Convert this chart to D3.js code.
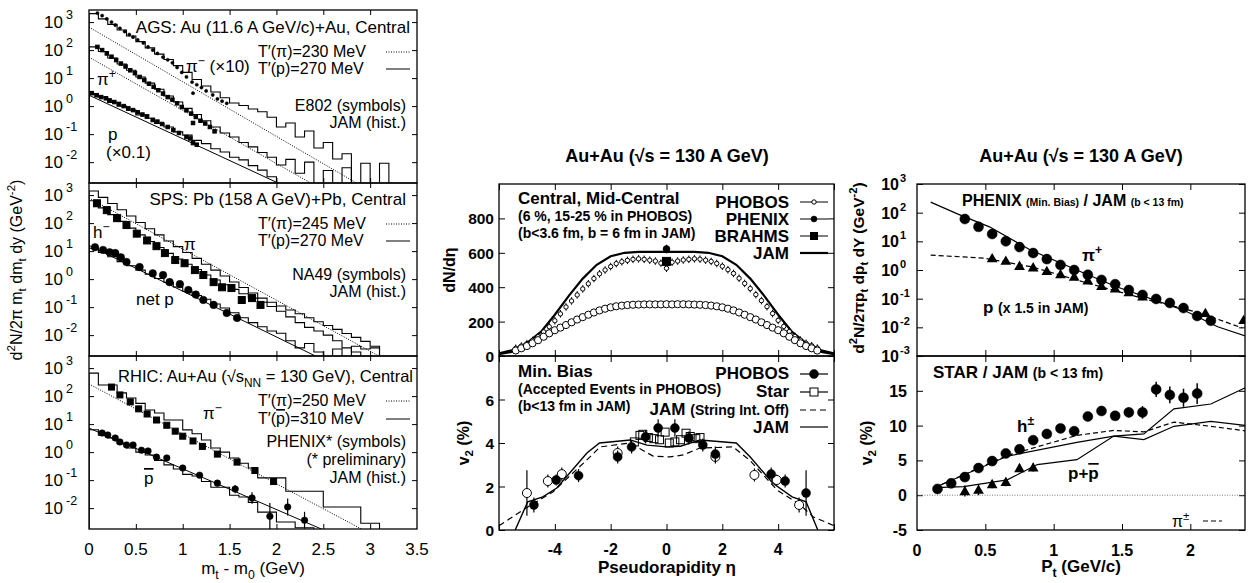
<!DOCTYPE html>
<html>
<head>
<meta charset="utf-8">
<script src="https://cdn.jsdelivr.net/npm/d3@7"></script>
<style>
  body { margin: 0; background: #fff; }
  svg { display: block; }
  text { font-family: "Liberation Sans", Arial, Helvetica, sans-serif; fill: #000; }
  .ax path.domain { display: none; }
  .ax line { stroke: #000; }
</style>
</head>
<body>
<svg id="chart" width="1250" height="583"></svg>
<script>
// ================= data =================
// left column: m_t - m_0 spectra, data pairs [mt-m0 (GeV), value]
const mtTicks = [0, 0.5, 1, 1.5, 2, 2.5, 3, 3.5];
const mtDecades = [1e-2, 1e-1, 1, 1e1, 1e2, 1e3];
const histBin = 0.1;

// AGS (E802 symbols, JAM histograms)
const agsPiMinus = [[0.09,2100],[0.14,1700],[0.19,1300],[0.24,1000],[0.28,780],[0.33,600],[0.38,460],[0.43,360],[0.47,290],[0.52,230],[0.58,180],[0.63,130],[0.68,100],[0.73,76],[0.79,56],[0.84,45],[0.89,35],[0.94,24],[0.99,16],[1.04,11],[1.10,7.2],[1.11,2.9],[1.15,5.8],[1.20,4.6],[1.25,3.5],[1.32,2.5],[1.37,1.8],[1.42,1.5],[1.47,1.26]];
const agsPiMinusHist = [2000,1300,830,520,320,200,120,72,46,28,16,8.9,5.2,3.2,2.0,1.3,1.05,0.79,0.63,0.4,0.18,0.25,0.079,0.13,0.032,0.05,0.013,0.02,null,0.0091,null,0.0091];
const agsPiPlus = [[0.09,130],[0.14,100],[0.19,76],[0.24,58],[0.29,44],[0.34,33],[0.39,26],[0.44,19],[0.49,15],[0.54,11],[0.59,8.5],[0.64,6.3],[0.69,4.9],[0.74,3.7],[0.79,2.8],[0.84,2.1],[0.89,1.7],[0.94,1.26],[0.99,0.93],[1.04,0.71],[1.09,0.54],[1.11,0.25],[1.14,0.41],[1.19,0.30],[1.24,0.24],[1.29,0.18],[1.34,0.126]];
const agsPiPlusHist = [130,89,52,32,19,11,6.6,4.0,2.3,1.4,0.83,0.5,0.3,0.18,0.11,0.079,0.05,0.035,0.022,0.015,0.0079,0.0126,0.004,0.01,null,0.005,null,0.0063];
const agsProton = [[0.03,2.9],[0.08,2.45],[0.13,2.1],[0.18,1.9],[0.22,1.6],[0.27,1.4],[0.32,1.2],[0.37,1.0],[0.42,0.83],[0.47,0.72],[0.52,0.6],[0.57,0.5],[0.62,0.43],[0.68,0.32],[0.73,0.28],[0.78,0.23],[0.84,0.18],[0.9,0.14],[0.96,0.11],[1.04,0.079],[1.08,0.07],[1.11,0.048],[1.15,0.042]];
const agsProtonHist = [2.8,2.1,1.35,1.0,0.72,0.48,0.37,0.24,0.18,0.12,0.092,0.06,0.046,0.03,0.023,0.015,0.012,0.0075,0.0052,0.003];
const agsFitPiMinus = [[0,660],[3.0,9.3e-4]];
const agsFitPiPlus = [[0,56],[2.5,1e-3]];
const agsFitProton = [[0,2.45],[2.5,3.2e-4]];

// SPS (NA49 symbols, JAM histograms)
const spsPiHist = [1400,830,500,300,180,105,63,38,23,14.5,8.9,5.5,3.4,2.1,1.29,0.79,0.5,0.32,0.21,0.15,0.11,0.079,0.058,0.042,0.030,0.022,0.016,0.0115,0.0083,0.006,0.004];
const spsHMinus = [[0.085,510],[0.19,290],[0.30,150],[0.40,85],[0.51,42],[0.62,24],[0.72,15],[0.81,8.5],[0.92,4.8],[1.02,3.7],[1.13,2.1],[1.22,1.4],[1.33,0.78],[1.42,0.51],[1.52,0.48],[1.63,0.18],[1.74,0.21],[1.83,0.12]];
const spsHMinusHist = [630,350,200,115,66,38,22,13.5,8.3,5.2,3.4,2.2,1.41,0.93,0.63,0.43,0.3,0.21,0.15,0.105,0.071,0.045,0.028,0.019,0.014,0.01,0.0063,0.0035,0.0025];
const spsNetP = [[0.064,13.8],[0.15,11],[0.22,9.1],[0.28,8.5],[0.34,6.0],[0.40,4.1],[0.54,2.7],[0.68,1.6],[0.79,1.4],[0.86,0.78],[0.97,0.66],[1.06,0.41],[1.14,0.28],[1.22,0.18],[1.33,0.12],[1.47,0.062],[1.58,0.041]];
const spsNetPHist = [12.6,8.9,6.3,4.2,3.0,2.1,1.5,1.05,0.76,0.52,0.37,0.26,0.19,0.13,0.093,0.063,0.042,0.028,0.02,0.014,0.0117,0.0063,0.0035,0.005,0.0025,null,0.0032,null,0.004,0.0032,0.0035];
const spsFitPi = [[0,780],[3.3,7.6e-4]];
const spsFitP = [[0,16],[2.6,9e-4]];

// RHIC (PHENIX preliminary symbols, JAM histograms)
const rhicPiMinus = [[0.24,210],[0.33,110],[0.44,62],[0.53,35],[0.62,23],[0.72,14],[0.83,9.1],[0.92,5.6],[1.0,3.7],[1.11,2.5],[1.21,1.6],[1.37,0.85],[1.58,0.44],[1.77,0.22],[1.97,0.089]];
const rhicPiMinusHist = [660,250,250,130,85,55,32,25,14,14,6.2,4.5,2.7,1.4,1.0,0.62,0.4,0.27,0.12,0.12,0.12,0.04,0.04,0.04,0.04,0.011,0.011,0.011,0.011,0.0029,0.0029];
const rhicPbar = [[0.14,4.8],[0.20,4.1],[0.28,3.2],[0.33,2.3],[0.40,1.8],[0.47,1.8],[0.56,1.17],[0.63,1.1],[0.72,0.66],[0.83,0.62],[1.0,0.27],[1.18,0.15],[1.37,0.078],[1.56,0.048],[1.74,0.023],[1.93,0.0051],[2.12,0.011],[2.3,0.0037]];
const rhicPbarErrFactor = [1.1,1.1,1.1,1.1,1.1,1.1,1.1,1.1,1.1,1.15,1.2,1.25,1.3,1.4,1.6,3,2,2];
const rhicPbarHist = [6.3,4.0,3.2,2.0,1.4,1.0,0.79,0.5,0.35,0.25,0.16,0.14,0.089,0.056,0.056,0.029,0.025,0.016,0.0072,0.0072,0.0032,0.0032,0.002,0.002];
const rhicFitPi = [[0,270],[3.2,5.4e-4]];
const rhicFitPbar = [[0,7.2],[2.6,1.2e-3]];

// middle column: pseudorapidity
const etaTicks = [-6, -4, -2, 0, 2, 4, 6];
const phobosEta = [-5.4,-5.2,-5.0,-4.8,-4.6,-4.4,-4.2,-4.0,-3.8,-3.6,-3.4,-3.2,-3.0,-2.8,-2.6,-2.4,-2.2,-2.0,-1.8,-1.6,-1.4,-1.2,-1.0,-0.8,-0.6,-0.4,-0.2,0,0.2,0.4,0.6,0.8,1.0,1.2,1.4,1.6,1.8,2.0,2.2,2.4,2.6,2.8,3.0,3.2,3.4,3.6,3.8,4.0,4.2,4.4,4.6,4.8,5.0,5.2,5.4];
const phobosCentral = [45,58,72,90,112,140,170,205,245,285,320,355,390,420,450,478,500,520,537,548,556,562,565,562,557,552,540,510,545,552,558,562,565,563,557,550,538,522,502,480,452,422,392,357,322,287,247,207,172,142,114,92,74,60,46];
const phobosCentralErr = 22;
const phobosMidCentral = [32,45,58,74,92,112,132,150,165,180,196,212,226,240,253,265,275,283,289,293,296,298,299,300,300,300,300,301,300,301,301,300,299,298,296,293,289,283,275,265,253,240,226,212,196,180,165,150,132,112,92,74,58,45,32];
const phenixDndeta = [[0, 622, 25]];
const brahmsDndeta = [[0, 550]];
const jamEta = [-6,-5.5,-5,-4.5,-4,-3.5,-3,-2.5,-2,-1.5,-1,0,1,1.5,2,2.5,3,3.5,4,4.5,5,5.5,6];
const jamCentral = [15,35,75,140,240,350,450,530,580,600,605,605,605,600,580,530,450,350,240,140,75,35,15];
const jamMidCentral = [10,25,50,95,140,185,225,260,285,297,300,300,300,297,285,260,225,185,140,95,50,25,10];

const phobosV2Eta = [-4.75,-3.95,-3.15,-1.75,-1.25,-0.75,-0.3,0.3,0.8,1.3,1.75,3.75,4.25,5.0];
const phobosV2 = [1.15,2.3,2.5,3.36,3.82,4.28,4.69,4.69,4.23,3.91,3.49,2.57,2.25,1.7];
const phobosV2Err = [0.35,0.25,0.3,0.3,0.3,0.3,0.4,0.4,0.3,0.3,0.35,0.3,0.3,1.05];
const phobosV2MirEta = [-5.0,-4.25,-3.75,-1.75,1.75,3.15,3.95,4.75];
const phobosV2Mir = [1.7,2.25,2.57,3.54,3.36,2.53,2.3,1.15];
const phobosV2MirErr = [1.05,0.3,0.3,0.3,0.3,0.3,0.25,0.35];
const starV2Eta = [-1.15,-0.95,-0.85,-0.65,-0.45,-0.25,-0.05,0.1,0.3,0.5,0.7,0.85,1.05,1.2];
const starV2 = [4.05,4.35,4.4,4.25,4.2,4.15,4.5,4.0,4.05,4.15,4.45,4.3,4.2,4.25];
const jamV2Eta = [-5.42,-4.97,-4.43,-3.93,-2.85,-2.4,-1.3,-0.7,0,0.5,1.2,2.5,3.0,3.8,4.5,5.0,5.42];
const jamV2 = [0,1.3,1.52,1.93,3.54,4.0,4.14,3.9,3.82,3.85,4.14,4.0,3.36,2.16,1.52,1.3,0];
const jamV2OffEta = [-6,-4.97,-4.07,-2.74,-2.38,-1.3,-0.9,-0.48,0.12,0.6,1.2,2.38,2.99,3.96,4.79,5.26,6];
const jamV2Off = [0.2,1.06,1.75,3.36,3.82,4.0,3.7,3.4,3.36,3.45,3.77,3.82,3.2,1.84,1.15,0.6,0.2];

// right column: transverse momentum
const ptTicks = [0, 0.5, 1, 1.5, 2];
const ptDecades = [1e-3, 1e-2, 1e-1, 1, 1e1, 1e2, 1e3];
const phenixPiPt = [0.35,0.45,0.55,0.65,0.75,0.85,0.95,1.05,1.15,1.25,1.35,1.45,1.55,1.65,1.75,1.85,1.95,2.05,2.15];
const phenixPi = [60,32,18,10,6.3,3.9,2.4,1.5,1.0,0.68,0.45,0.32,0.2,0.135,0.098,0.071,0.047,0.025,0.017];
const phenixPPt = [0.55,0.65,0.75,0.85,0.95,1.05,1.15,1.25,1.35,1.45,1.55,1.65,2.11,2.39];
const phenixP = [2.6,2.1,1.4,1.24,0.93,0.71,0.59,0.43,0.28,0.23,0.17,0.12,0.032,0.018];
const jamPiPt = [0.1,0.3,0.53,0.83,1.22,1.46,1.95,2.2,2.42];
const jamPi = [234,89,32,5.0,0.79,0.26,0.04,0.0105,0.0047];
const jamPPt = [0.1,0.49,0.85,1.22,1.7,2.07,2.38];
const jamP = [3.3,2.6,1.26,0.38,0.089,0.032,0.0095];

const starHPt = [0.15,0.25,0.35,0.45,0.55,0.65,0.75,0.85,0.95,1.05,1.15,1.25,1.35,1.45,1.55,1.65,1.75,1.85,1.95,2.05];
const starH = [0.9,1.7,2.6,3.9,4.9,6.0,6.6,7.9,8.8,9.6,9.2,11.3,12.1,11.4,11.9,11.9,15.2,14.4,14.0,14.6];
const starHErr = [0.2,0.2,0.3,0.3,0.3,0.3,0.3,0.3,0.3,0.3,0.3,0.4,0.4,0.6,0.7,0.9,1.1,1.2,1.3,1.5];
const starPPt = [0.35,0.45,0.55,0.65,0.75,0.85];
const starP = [0.6,0.8,1.6,1.9,3.9,4.0];
const starPErr = [0.8,0.8,0.6,0.6,0.6,0.6];
const jamV2HPt = [0.13,0.66,1.17,1.44,1.66,1.88,2.15,2.42];
const jamV2H = [1.1,5.6,7.6,8.5,8.0,9.9,10.6,10.0];
const jamV2PPt = [0.13,0.34,0.66,0.88,1.17,1.44,1.66,1.88,2.15,2.42];
const jamV2P = [1.1,1.24,2.2,4.4,5.1,8.5,8.8,12.4,13.1,15.6];
const jamV2PiPt = [0.13,0.66,1.17,1.44,1.66,1.88,2.15,2.42];
const jamV2Pi = [1.1,5.7,8.6,9.3,9.1,10.5,9.9,9.2];

// ================= drawing =================
const svg = d3.select("#chart");
const FLOOR = 1e-5;
let clipN = 0;

function rich(g, x, y, segs, o = {}) {
  const size = o.size || 16;
  const t = g.append("text").attr("x", x).attr("y", y)
    .attr("font-size", size)
    .attr("font-weight", o.bold ? "bold" : null)
    .attr("text-anchor", o.anchor || "start");
  if (o.rotate) t.attr("transform", `rotate(-90,${x},${y})`);
  let shift = 0;
  segs.forEach(s => {
    if (typeof s === "string") s = { t: s };
    const target = s.sup ? -0.42 * size : s.sub ? 0.28 * size : 0;
    const ts = t.append("tspan").text(s.t).attr("dy", target - shift);
    shift = target;
    if (s.sup || s.sub) ts.attr("font-size", s.size || size * 0.72);
    else if (s.size) ts.attr("font-size", s.size);
    if (s.over) ts.style("text-decoration", "overline");
  });
  return t;
}

function clipped(x0, y0, x1, y1) {
  const id = "clip" + (clipN++);
  svg.append("clipPath").attr("id", id).append("rect")
    .attr("x", x0).attr("y", y0).attr("width", x1 - x0).attr("height", y1 - y0);
  return svg.append("g").attr("clip-path", `url(#${id})`);
}

function line(g, pts, x, y, dash, w) {
  return g.append("path").datum(pts)
    .attr("fill", "none").attr("stroke", "#000")
    .attr("stroke-width", w || 1)
    .attr("stroke-dasharray", dash || null)
    .attr("d", d3.line().x(d => x(d[0])).y(d => y(d[1])));
}

function histPts(vals, w) {
  const pts = [[0, FLOOR]];
  vals.forEach((v, i) => {
    const h = v == null ? FLOOR : v;
    pts.push([i * w, h], [(i + 1) * w, h]);
  });
  pts.push([vals.length * w, FLOOR]);
  return pts;
}

function marks(g, data, x, y, kind, s) {
  const tag = kind === "sq" || kind === "box" ? "rect" : kind === "tri" ? "path" : "circle";
  const sel = g.selectAll(null).data(data).join(tag);
  if (tag === "circle") {
    sel.attr("cx", d => x(d[0])).attr("cy", d => y(d[1])).attr("r", s)
      .attr("fill", kind === "dot" ? "#000" : "#fff")
      .attr("stroke", "#000").attr("stroke-width", kind === "ring" ? 1 : 0.5);
  } else if (tag === "rect") {
    sel.attr("x", d => x(d[0]) - s / 2).attr("y", d => y(d[1]) - s / 2)
      .attr("width", s).attr("height", s)
      .attr("fill", kind === "sq" ? "#000" : "none")
      .attr("stroke", "#000").attr("stroke-width", 1);
  } else {
    sel.attr("d", d3.symbol(d3.symbolTriangle, s))
      .attr("transform", d => `translate(${x(d[0])},${y(d[1]) + 1})`)
      .attr("fill", "#000");
  }
}

// error bars: data [x, lo, hi]
function errs(g, data, x, y, w) {
  g.selectAll(null).data(data).join("line")
    .attr("x1", d => x(d[0])).attr("x2", d => x(d[0]))
    .attr("y1", d => y(d[1])).attr("y2", d => y(d[2]))
    .attr("stroke", "#000").attr("stroke-width", w || 1.2);
}

function frame(x0, y0, x1, y1) {
  svg.append("rect").attr("x", x0).attr("y", y0).attr("width", x1 - x0).attr("height", y1 - y0)
    .attr("fill", "none").attr("stroke", "#000").attr("stroke-width", 1.3);
}

function axes(x, y, xt, yt, x0, x1, y0, y1, len) {
  const k = len || 5;
  svg.append("g").attr("class", "ax").attr("transform", `translate(${x0},0)`)
    .call(d3.axisLeft(y).tickValues(yt).tickSizeInner(-k).tickSizeOuter(0).tickFormat(""));
  svg.append("g").attr("class", "ax").attr("transform", `translate(${x1},0)`)
    .call(d3.axisRight(y).tickValues(yt).tickSizeInner(-k).tickSizeOuter(0).tickFormat(""));
  svg.append("g").attr("class", "ax").attr("transform", `translate(0,${y1})`)
    .call(d3.axisBottom(x).tickValues(xt).tickSizeInner(-k).tickSizeOuter(0).tickFormat(""));
  svg.append("g").attr("class", "ax").attr("transform", `translate(0,${y0})`)
    .call(d3.axisTop(x).tickValues(xt).tickSizeInner(-k).tickSizeOuter(0).tickFormat(""));
}

// ---------- left column ----------
const xMt = d3.scaleLinear([0, 3.5], [89, 417]);
const leftTops = [10, 183, 356];
const leftH = 173;
const yMt = leftTops.map(t => d3.scaleLog([1.8e-3, 2.7e3], [t + leftH, t]));
const LF = 17;   // single labels
const SF = 16;   // stacked labels

leftTops.forEach((t, i) => {
  const y = yMt[i];
  axes(xMt, y, mtTicks.slice(1, -1), mtDecades, 89, 417, t, t + leftH);
  mtDecades.forEach(v => {
    svg.append("text").attr("x", 63).attr("y", y(v) + 6).attr("text-anchor", "end")
      .attr("font-size", 17).text("10");
    svg.append("text").attr("x", 66).attr("y", y(v) - 3).attr("font-size", 12.5)
      .text(Math.round(Math.log10(v)));
  });
});

// legend sample lines for the fit temperatures
function tLegend(y1, y2, piTxt, pTxt, pbar) {
  rich(svg, 258, y1, ["T′(π)=" + piTxt + " MeV"], { size: SF });
  rich(svg, 258, y2, ["T′(", { t: "p", over: !!pbar }, ")=" + pTxt + " MeV"], { size: SF });
  svg.append("line").attr("x1", 386).attr("x2", 410).attr("y1", y1 - 5).attr("y2", y1 - 5)
    .attr("stroke", "#000").attr("stroke-dasharray", "1,1.5");
  svg.append("line").attr("x1", 386).attr("x2", 410).attr("y1", y2 - 5).attr("y2", y2 - 5)
    .attr("stroke", "#000");
}

// AGS panel
{
  const y = yMt[0];
  const g = clipped(89, 10, 417, 183);
  line(g, agsFitPiMinus, xMt, y, "1,1.5");
  line(g, agsFitPiPlus, xMt, y, "1,1.5");
  line(g, agsFitProton, xMt, y);
  line(g, histPts(agsPiMinusHist, histBin), xMt, y, null, 1.1);
  line(g, histPts(agsPiPlusHist, histBin), xMt, y, null, 1.1);
  line(g, histPts(agsProtonHist, histBin), xMt, y, null, 1.1);
  marks(g, agsPiMinus, xMt, y, "dot", 1.6);
  marks(g, agsPiPlus, xMt, y, "sq", 3.5);
  marks(g, agsProton, xMt, y, "sq", 3.5);
  rich(svg, 410, 33, ["AGS: Au (11.6 A GeV/c)+Au, Central"], { anchor: "end", size: LF });
  rich(svg, 186, 72, ["π", { t: "−", sup: true }, " (×10)"], { size: LF });
  tLegend(57, 74, "230", "270");
  rich(svg, 97, 85, ["π", { t: "+", sup: true }], { size: LF });
  rich(svg, 406, 111, ["E802 (symbols)"], { anchor: "end", size: SF });
  rich(svg, 406, 128, ["JAM (hist.)"], { anchor: "end", size: SF });
  rich(svg, 108, 140, ["p"], { size: LF });
  rich(svg, 106, 158, ["(×0.1)"], { size: LF });
}

// SPS panel
{
  const y = yMt[1];
  const g = clipped(89, 183, 417, 356);
  line(g, spsFitPi, xMt, y, "1,1.5");
  line(g, spsFitP, xMt, y);
  line(g, histPts(spsPiHist, histBin), xMt, y, null, 1.1);
  line(g, histPts(spsHMinusHist, histBin), xMt, y, null, 1.1);
  line(g, histPts(spsNetPHist, histBin), xMt, y, null, 1.1);
  marks(g, spsHMinus, xMt, y, "sq", 7);
  marks(g, spsNetP, xMt, y, "dot", 3.8);
  rich(svg, 406, 205, ["SPS: Pb (158 A GeV)+Pb, Central"], { anchor: "end", size: LF });
  tLegend(229, 246, "245", "270");
  rich(svg, 93, 238, ["h", { t: "−", sup: true }], { size: LF });
  rich(svg, 184, 250, ["π"], { size: LF });
  rich(svg, 406, 280, ["NA49 (symbols)"], { anchor: "end", size: SF });
  rich(svg, 406, 297, ["JAM (hist.)"], { anchor: "end", size: SF });
  rich(svg, 136, 305, ["net p"], { size: LF });
}

// RHIC panel
{
  const y = yMt[2];
  const g = clipped(89, 356, 417, 529);
  line(g, rhicFitPi, xMt, y, "1,1.5");
  line(g, rhicFitPbar, xMt, y);
  line(g, histPts(rhicPiMinusHist, histBin), xMt, y, null, 1.1);
  line(g, histPts(rhicPbarHist, histBin), xMt, y, null, 1.1);
  marks(g, rhicPiMinus, xMt, y, "sq", 6);
  errs(g, rhicPbar.map((d, i) => [d[0], d[1] / rhicPbarErrFactor[i], d[1] * rhicPbarErrFactor[i]]), xMt, y, 1.2);
  marks(g, rhicPbar, xMt, y, "dot", 3.3);
  rich(svg, 413, 382, ["RHIC: Au+Au (√s", { t: "NN", sub: true }, " = 130 GeV), Central"], { anchor: "end", size: 16.5 });
  tLegend(406, 424, "250", "310", true);
  rich(svg, 203, 419, ["π", { t: "−", sup: true }], { size: LF });
  rich(svg, 406, 447, ["PHENIX* (symbols)"], { anchor: "end", size: SF });
  rich(svg, 406, 465, ["(* preliminary)"], { anchor: "end", size: SF });
  rich(svg, 406, 483, ["JAM (hist.)"], { anchor: "end", size: SF });
  rich(svg, 144, 484, [{ t: "p", over: true }], { size: LF });
}

leftTops.forEach(t => frame(89, t, 417, t + leftH));
mtTicks.forEach(v => {
  svg.append("text").attr("x", xMt(v)).attr("y", 555).attr("text-anchor", "middle")
    .attr("font-size", 17).text(v);
});
rich(svg, 253, 574, ["m", { t: "t", sub: true }, " - m", { t: "0", sub: true }, " (GeV)"], { anchor: "middle", size: 17 });
rich(svg, 22, 270, ["d", { t: "2", sup: true }, "N/2π m", { t: "t", sub: true }, " dm", { t: "t", sub: true }, " dy (GeV", { t: "-2", sup: true }, ")"], { anchor: "middle", size: 16, rotate: true });

// ---------- middle column ----------
const xEta = d3.scaleLinear([-6, 6], [499, 834]);
const yDn = d3.scaleLinear([0, 1000], [356, 184]);
const yV2e = d3.scaleLinear([0, 8], [530, 356]);

axes(xEta, yDn, etaTicks, [0, 200, 400, 600, 800], 499, 834, 184, 356, 6);
axes(xEta, yV2e, etaTicks, [0, 2, 4, 6], 499, 834, 356, 530, 6);

{
  const g = clipped(499, 184, 834, 356);
  line(g, d3.zip(jamEta, jamCentral), xEta, yDn, null, 2.2);
  line(g, d3.zip(jamEta, jamMidCentral), xEta, yDn, null, 2.2);
  const cen = d3.zip(phobosEta, phobosCentral);
  errs(g, cen.map(d => [d[0], d[1] - phobosCentralErr, d[1] + phobosCentralErr]), xEta, yDn, 1);
  marks(g, cen, xEta, yDn, "ring", 2.2);
  marks(g, d3.zip(phobosEta, phobosMidCentral), xEta, yDn, "ring", 3.6);
  errs(g, phenixDndeta.map(d => [d[0], d[1] - d[2], d[1] + d[2]]), xEta, yDn, 1.3);
  marks(g, phenixDndeta, xEta, yDn, "dot", 3.5);
  marks(g, brahmsDndeta, xEta, yDn, "sq", 8);
}
{
  const g = clipped(499, 356, 834, 530);
  line(g, d3.zip(jamV2OffEta, jamV2Off), xEta, yV2e, "6,4", 1.2);
  line(g, d3.zip(jamV2Eta, jamV2), xEta, yV2e, null, 1.4);
  errs(g, phobosV2MirEta.map((e, i) => [e, phobosV2Mir[i] - phobosV2MirErr[i], phobosV2Mir[i] + phobosV2MirErr[i]]), xEta, yV2e, 1.2);
  marks(g, d3.zip(phobosV2MirEta, phobosV2Mir), xEta, yV2e, "ring", 4.5);
  marks(g, d3.zip(starV2Eta, starV2), xEta, yV2e, "box", 8);
  errs(g, phobosV2Eta.map((e, i) => [e, phobosV2[i] - phobosV2Err[i], phobosV2[i] + phobosV2Err[i]]), xEta, yV2e, 1.2);
  marks(g, d3.zip(phobosV2Eta, phobosV2), xEta, yV2e, "dot", 4.5);
}
frame(499, 184, 834, 356);
frame(499, 356, 834, 530);

rich(svg, 667, 162, ["Au+Au (√s = 130 A GeV)"], { anchor: "middle", size: 18, bold: true });
[0, 200, 400, 600, 800].forEach(v => rich(svg, 494, yDn(v) + 6, [String(v)], { anchor: "end", size: 15.5, bold: true }));
[0, 2, 4, 6].forEach(v => rich(svg, 494, yV2e(v) + 6, [String(v)], { anchor: "end", size: 15.5, bold: true }));
[-4, -2, 0, 2, 4].forEach(v => rich(svg, xEta(v), 555, [String(v)], { anchor: "middle", size: 16, bold: true }));
rich(svg, 667, 573, ["Pseudorapidity η"], { anchor: "middle", size: 17, bold: true });
rich(svg, 455, 270, ["dN/dη"], { anchor: "middle", size: 16, bold: true, rotate: true });
rich(svg, 469, 443, ["v", { t: "2", sub: true }, " (%)"], { anchor: "middle", size: 16, bold: true, rotate: true });

rich(svg, 518, 204, ["Central, Mid-Central"], { size: 17, bold: true });
rich(svg, 518, 221, ["(6 %, 15-25 % in PHOBOS)"], { size: 14, bold: true });
rich(svg, 518, 238, ["(b<3.6 fm, b = 6 fm in JAM)"], { size: 14, bold: true });
rich(svg, 518, 377, ["Min. Bias"], { size: 17, bold: true });
rich(svg, 518, 394, ["(Accepted Events in PHOBOS)"], { size: 14, bold: true });
rich(svg, 518, 411, ["(b<13 fm in JAM)"], { size: 14, bold: true });

// middle legends
{
  const lx = 789, s0 = 800, s1 = 828, sc = 814;
  const top = [["PHOBOS", 202], ["PHENIX", 219], ["BRAHMS", 236], ["JAM", 253]];
  top.forEach(([t, yy]) => rich(svg, lx, yy + 6, [t], { anchor: "end", size: 17, bold: true }));
  top.forEach(([t, yy], i) => svg.append("line").attr("x1", s0).attr("x2", s1).attr("y1", yy).attr("y2", yy)
    .attr("stroke", "#000").attr("stroke-width", i === 3 ? 2.2 : 1));
  const ident = d => d;
  marks(svg, [[sc, 202]], ident, ident, "ring", 2.2);
  marks(svg, [[sc, 219]], ident, ident, "dot", 3);
  marks(svg, [[sc, 236]], ident, ident, "sq", 7);

  rich(svg, lx, 379, ["PHOBOS"], { anchor: "end", size: 17, bold: true });
  rich(svg, lx, 397, ["Star"], { anchor: "end", size: 17, bold: true });
  rich(svg, lx, 415, ["JAM ", { t: "(String Int. Off)", size: 14 }], { anchor: "end", size: 17, bold: true });
  rich(svg, lx, 433, ["JAM"], { anchor: "end", size: 17, bold: true });
  [[374, null], [392, null], [410, "6,4"], [427, null]].forEach(([yy, dash]) =>
    svg.append("line").attr("x1", s0).attr("x2", s1).attr("y1", yy).attr("y2", yy)
      .attr("stroke", "#000").attr("stroke-width", 1.2).attr("stroke-dasharray", dash));
  marks(svg, [[sc, 374]], ident, ident, "dot", 4.5);
  svg.append("rect").attr("x", sc - 4).attr("y", 388).attr("width", 8).attr("height", 8)
    .attr("fill", "#fff").attr("stroke", "#000");
}

// ---------- right column ----------
const xPt = d3.scaleLinear([0, 2.4], [917, 1245]);
const ySp = d3.scaleLog([1e-3, 1e3], [356, 184]);
const yV2p = d3.scaleLinear([-5, 20], [530, 356]);

axes(xPt, ySp, ptTicks.slice(1), ptDecades, 917, 1245, 184, 356, 6);
axes(xPt, yV2p, ptTicks.slice(1), [-5, 0, 5, 10, 15], 917, 1245, 356, 530, 6);

{
  const g = clipped(917, 184, 1245, 356);
  line(g, d3.zip(jamPiPt, jamPi), xPt, ySp, null, 1.2);
  line(g, d3.zip(jamPPt, jamP), xPt, ySp, "5,3", 1.2);
  marks(g, d3.zip(phenixPPt, phenixP), xPt, ySp, "tri", 50);
  marks(g, d3.zip(phenixPiPt, phenixPi), xPt, ySp, "dot", 5);
}
{
  const g = clipped(917, 356, 1245, 530);
  g.append("line").attr("x1", 917).attr("x2", 1245).attr("y1", yV2p(0)).attr("y2", yV2p(0))
    .attr("stroke", "#777").attr("stroke-dasharray", "1,1.5");
  line(g, d3.zip(jamV2PiPt, jamV2Pi), xPt, yV2p, "5,3", 1.2);
  line(g, d3.zip(jamV2HPt, jamV2H), xPt, yV2p, null, 1.2);
  line(g, d3.zip(jamV2PPt, jamV2P), xPt, yV2p, null, 1.2);
  errs(g, starHPt.map((p, i) => [p, starH[i] - starHErr[i], starH[i] + starHErr[i]]), xPt, yV2p, 1.5);
  marks(g, d3.zip(starHPt, starH), xPt, yV2p, "dot", 5);
  errs(g, starPPt.map((p, i) => [p, starP[i] - starPErr[i], starP[i] + starPErr[i]]), xPt, yV2p, 1.3);
  marks(g, d3.zip(starPPt, starP), xPt, yV2p, "tri", 50);
}
frame(917, 184, 1245, 356);
frame(917, 356, 1245, 530);

rich(svg, 1081, 162, ["Au+Au (√s = 130 A GeV)"], { anchor: "middle", size: 18, bold: true });
ptDecades.forEach(v => {
  rich(svg, 899, ySp(v) + 6, ["10"], { anchor: "end", size: 16, bold: true });
  rich(svg, 900, ySp(v) - 2, [String(Math.round(Math.log10(v)))], { size: 11, bold: true });
});
[-5, 0, 5, 10, 15].forEach(v => rich(svg, 907, yV2p(v) + 6, [String(v)], { anchor: "end", size: 16, bold: true }));
ptTicks.forEach(v => rich(svg, xPt(v), 556, [String(v)], { anchor: "middle", size: 16, bold: true }));
rich(svg, 1081, 572, ["P", { t: "t", sub: true }, " (GeV/c)"], { anchor: "middle", size: 17, bold: true });
rich(svg, 864, 268, ["d", { t: "2", sup: true }, "N/2πp", { t: "t", sub: true }, " dp", { t: "t", sub: true }, " dY (GeV", { t: "-2", sup: true }, ")"], { anchor: "middle", size: 15.5, bold: true, rotate: true });
rich(svg, 872, 443, ["v", { t: "2", sub: true }, " (%)"], { anchor: "middle", size: 16, bold: true, rotate: true });

rich(svg, 962, 206, ["PHENIX ", { t: "(Min. Bias)", size: 10.5 }, " / JAM ", { t: "(b < 13 fm)", size: 10.5 }], { size: 16, bold: true });
rich(svg, 1082, 261, ["π", { t: "+", sup: true }], { size: 17, bold: true });
rich(svg, 983, 313, ["p ", { t: "(x 1.5 in JAM)", size: 14 }], { size: 17, bold: true });
rich(svg, 933, 378, ["STAR / JAM ", { t: "(b < 13 fm)", size: 14 }], { size: 17, bold: true });
rich(svg, 1017, 432, ["h", { t: "±", sup: true }], { size: 17, bold: true });
rich(svg, 1068, 479, ["p+", { t: "p", over: true }], { size: 17, bold: true });
rich(svg, 1172, 527, ["π", { t: "±", sup: true }], { size: 16 });
svg.append("line").attr("x1", 1203).attr("x2", 1222).attr("y1", 521).attr("y2", 521)
  .attr("stroke", "#000").attr("stroke-dasharray", "5,3");
</script>
</body>
</html>
